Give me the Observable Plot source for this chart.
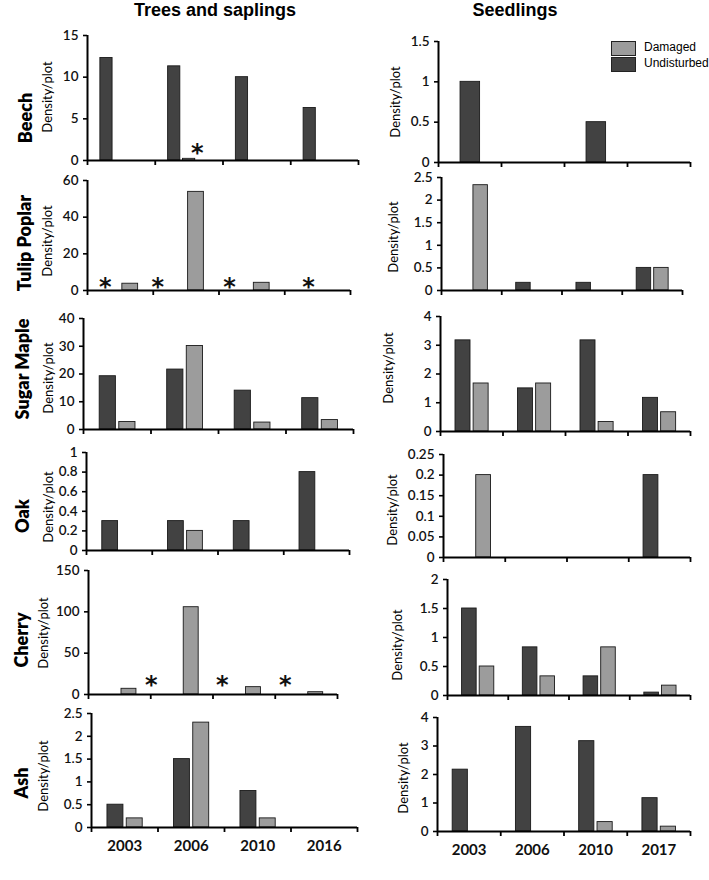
<!DOCTYPE html>
<html>
<head>
<meta charset="utf-8">
<script src="https://cdn.jsdelivr.net/npm/d3@7"></script>
<script src="https://cdn.jsdelivr.net/npm/@observablehq/plot@0.6"></script>
<style>
  html, body { margin: 0; padding: 0; background: #fff; }
  #fig { position: relative; width: 709px; height: 880px; overflow: hidden; font-family: Lato, "Open Sans", sans-serif; }
  .abs { position: absolute; white-space: nowrap; }
  .coltitle { font-family: "Liberation Sans", Arial, sans-serif; font-weight: bold; font-size: 18px; line-height: 20px; transform: translateX(-50%); }
  .rowlab { font-family: Lato, sans-serif; font-weight: 800; font-size: 18px; transform: translate(-50%, -50%) rotate(-90deg); }
  .ylab { font-family: Lato, sans-serif; font-size: 13px; transform: translate(-50%, -50%) rotate(-90deg); }
  .legsw { position: absolute; width: 23px; height: 13px; border: 1px solid #222; }
  .legtx { font-family: "Liberation Sans", Arial, sans-serif; font-size: 12px; }
  svg.panel { position: absolute; overflow: visible; }
</style>
</head>
<body>
<div id="fig"></div>
<script>
// ---------------- DATA ----------------
const species = ["Beech", "Tulip Poplar", "Sugar Maple", "Oak", "Cherry", "Ash"];
const treeYears = ["2003", "2006", "2010", "2016"];
const seedYears = ["2003", "2006", "2010", "2017"];
const seriesNames = ["Undisturbed", "Damaged"];

// Trees and saplings (density/plot), order = treeYears
const treeBeechUndisturbed = [12.3, 11.3, 10.0, 6.3];
const treeBeechDamaged     = [0, 0.2, 0, 0];
const treeTulipUndisturbed = [0, 0, 0, 0];
const treeTulipDamaged     = [3.7, 53.8, 4.2, 0];
const treeMapleUndisturbed = [19.2, 21.6, 14.0, 11.3];
const treeMapleDamaged     = [2.7, 30.1, 2.5, 3.4];
const treeOakUndisturbed   = [0.3, 0.3, 0.3, 0.8];
const treeOakDamaged       = [0, 0.2, 0, 0];
const treeCherryUndisturbed = [0, 0, 0, 0];
const treeCherryDamaged     = [6.9, 105.6, 8.9, 2.8];
const treeAshUndisturbed   = [0.5, 1.5, 0.8, 0];
const treeAshDamaged       = [0.2, 2.3, 0.2, 0];

// Seedlings (density/plot), order = seedYears
const seedBeechUndisturbed = [1.0, 0, 0.5, 0];
const seedBeechDamaged     = [0, 0, 0, 0];
const seedTulipUndisturbed = [0, 0.17, 0.17, 0.5];
const seedTulipDamaged     = [2.33, 0, 0, 0.5];
const seedMapleUndisturbed = [3.17, 1.5, 3.17, 1.17];
const seedMapleDamaged     = [1.67, 1.67, 0.33, 0.67];
const seedOakUndisturbed   = [0, 0, 0, 0.2];
const seedOakDamaged       = [0.2, 0, 0, 0];
const seedCherryUndisturbed = [1.5, 0.83, 0.33, 0.05];
const seedCherryDamaged     = [0.5, 0.33, 0.83, 0.17];
const seedAshUndisturbed   = [2.17, 3.67, 3.17, 1.17];
const seedAshDamaged       = [0, 0, 0.33, 0.17];

// Y tick labels
const ticksTreeBeech = [0, 5, 10, 15];
const ticksTreeTulip = [0, 20, 40, 60];
const ticksTreeMaple = [0, 10, 20, 30, 40];
const ticksTreeOak   = [0, 0.2, 0.4, 0.6, 0.8, 1];
const ticksTreeCherry = [0, 50, 100, 150];
const ticksTreeAsh   = [0, 0.5, 1, 1.5, 2, 2.5];
const ticksSeedBeech = [0, 0.5, 1, 1.5];
const ticksSeedTulip = [0, 0.5, 1, 1.5, 2, 2.5];
const ticksSeedMaple = [0, 1, 2, 3, 4];
const ticksSeedOak   = [0, 0.05, 0.1, 0.15, 0.2, 0.25];
const ticksSeedCherry = [0, 0.5, 1, 1.5, 2];
const ticksSeedAsh   = [0, 1, 2, 3, 4];

// Significance markers (asterisks): year and height in data units
const starsTreeBeech  = [{year: "2006", value: 1.7}];
const starsTreeTulip  = [{year: "2003", value: 5.5}, {year: "2006", value: 5.5}, {year: "2010", value: 5.5}, {year: "2016", value: 5.5}];
const starsTreeCherry = [{year: "2006", value: 20}, {year: "2010", value: 20}, {year: "2016", value: 20}];

// ---------------- LAYOUT ----------------
const colDark = "#424242", colLight = "#9c9c9c";
const std = {u: [0.24, 0.48], d: [0.53, 0.77]};
// horizontal placement of asterisks within each year group (fraction of group)
const starPosTreeBeech = [0.62];
const starPosTreeTulip = [0.27, 0.07, 0.16, 0.36];
const starPosTreeCherry = [0.01, 0.15, 0.16];

const fig = document.getElementById("fig");

function panel(cfg) {
  const {left, right, top, base, ticks, years, u, d, bars = std, stars = [], starPos = [], showYears = false} = cfg;
  const mL = 44, mR = 6, mT = 10, mB = showYears ? 34 : 8;
  const w = right - left, h = base - top;
  const rows = [];
  years.forEach((yr, i) => {
    rows.push({i, year: yr, series: "Undisturbed", value: u[i]});
    rows.push({i, year: yr, series: "Damaged", value: d[i]});
  });
  const drawn = rows.filter(r => r.value > 0);
  const starRows = stars.map((s, k) => ({...s, i: years.indexOf(s.year), pos: starPos[k]}));
  const fmt = v => String(+v.toFixed(2));
  const marks = [
    Plot.rectY(drawn, {
      x1: r => r.i + (r.series === "Undisturbed" ? bars.u[0] : bars.d[0]),
      x2: r => r.i + (r.series === "Undisturbed" ? bars.u[1] : bars.d[1]),
      y1: 0, y2: "value",
      fill: r => r.series === "Undisturbed" ? colDark : colLight,
      stroke: "#1a1a1a", strokeWidth: 0.9
    }),
    Plot.axisY({ticks, tickSize: 4, tickPadding: 5, tickFormat: fmt, label: null, stroke: "#000", strokeWidth: 1.6, fill: "#111", fontSize: 13.5, fontWeight: 600}),
    Plot.axisX({ticks: [0, 1, 2, 3, 4], tickSize: 5, tickFormat: () => "", label: null, stroke: "#000", strokeWidth: 1.8}),
    Plot.ruleX([0], {stroke: "#000", strokeWidth: 2}),
    Plot.ruleY([0], {stroke: "#000", strokeWidth: 2.2}),
    Plot.text(starRows, {x: r => r.i + r.pos, y: "value", text: () => "*", fontSize: 24, fontWeight: 800, fill: "#111", dy: 7, fontFamily: "DejaVu Sans"})
  ];
  if (showYears) {
    marks.push(Plot.axisX({ticks: [0.5, 1.5, 2.5, 3.5], tickSize: 0, tickPadding: 13, tickFormat: t => years[Math.floor(t)], label: null, fontSize: 15, fontWeight: 700, fill: "#111"}));
  }
  const svg = Plot.plot({
    width: w + mL + mR, height: h + mT + mB,
    marginLeft: mL, marginRight: mR, marginTop: mT, marginBottom: mB,
    x: {type: "linear", domain: [0, 4], axis: null},
    y: {domain: [ticks[0], ticks[ticks.length - 1]], axis: null},
    style: {fontFamily: "Lato, 'Open Sans', sans-serif", fontSize: "13.5px", fontWeight: 600, color: "#000", background: "transparent", overflow: "visible"},
    marks
  });
  svg.classList.add("panel");
  svg.style.left = (left - mL) + "px";
  svg.style.top = (top - mT) + "px";
  fig.appendChild(svg);
}

// Trees and saplings column
panel({left: 87, right: 358, top: 35, base: 160, ticks: ticksTreeBeech, years: treeYears, u: treeBeechUndisturbed, d: treeBeechDamaged, bars: {u: [0.19, 0.37], d: [0.41, 0.59]}, stars: starsTreeBeech, starPos: starPosTreeBeech});
panel({left: 87, right: 350, top: 180, base: 290, ticks: ticksTreeTulip, years: treeYears, u: treeTulipUndisturbed, d: treeTulipDamaged, stars: starsTreeTulip, starPos: starPosTreeTulip});
panel({left: 83, right: 353, top: 318, base: 429, ticks: ticksTreeMaple, years: treeYears, u: treeMapleUndisturbed, d: treeMapleDamaged});
panel({left: 86, right: 349, top: 452, base: 550, ticks: ticksTreeOak, years: treeYears, u: treeOakUndisturbed, d: treeOakDamaged});
panel({left: 88, right: 337, top: 570, base: 694, ticks: ticksTreeCherry, years: treeYears, u: treeCherryUndisturbed, d: treeCherryDamaged, stars: starsTreeCherry, starPos: starPosTreeCherry});
panel({left: 91, right: 357, top: 713, base: 827, ticks: ticksTreeAsh, years: treeYears, u: treeAshUndisturbed, d: treeAshDamaged, showYears: true});

// Seedlings column
panel({left: 438, right: 690, top: 41, base: 162, ticks: ticksSeedBeech, years: seedYears, u: seedBeechUndisturbed, d: seedBeechDamaged, bars: {u: [0.35, 0.66], d: [0.66, 0.9]}});
panel({left: 441, right: 682, top: 177, base: 290, ticks: ticksSeedTulip, years: seedYears, u: seedTulipUndisturbed, d: seedTulipDamaged});
panel({left: 440, right: 690, top: 316, base: 431, ticks: ticksSeedMaple, years: seedYears, u: seedMapleUndisturbed, d: seedMapleDamaged});
panel({left: 443, right: 690, top: 454, base: 557, ticks: ticksSeedOak, years: seedYears, u: seedOakUndisturbed, d: seedOakDamaged});
panel({left: 447, right: 690, top: 579, base: 695, ticks: ticksSeedCherry, years: seedYears, u: seedCherryUndisturbed, d: seedCherryDamaged});
panel({left: 437, right: 690, top: 717, base: 831, ticks: ticksSeedAsh, years: seedYears, u: seedAshUndisturbed, d: seedAshDamaged, showYears: true});

// Text: column titles, row labels, y labels
function addText(cls, text, x, y) {
  const el = document.createElement("div");
  el.className = "abs " + cls;
  el.textContent = text;
  el.style.left = x + "px";
  el.style.top = y + "px";
  fig.appendChild(el);
  return el;
}
addText("coltitle", "Trees and saplings", 215, 0);
addText("coltitle", "Seedlings", 515, 0);

const rowLabelCenters = [[25, 118], [24, 243], [22, 369], [22, 516], [21, 640], [21, 783]];
species.forEach((s, k) => addText("rowlab", s, rowLabelCenters[k][0], rowLabelCenters[k][1]));
const yLabLeft = [[47, 97], [47, 241], [48, 378], [48, 507], [43, 633], [43, 776]];
const yLabRight = [[395, 102], [393, 237], [388, 368], [392, 510], [397, 645], [403, 778]];
yLabLeft.forEach(([x, y]) => addText("ylab", "Density/plot", x, y));
yLabRight.forEach(([x, y]) => addText("ylab", "Density/plot", x, y));

// Legend
[["Damaged", colLight, 41], ["Undisturbed", colDark, 57]].forEach(([name, col, y]) => {
  const sw = document.createElement("div");
  sw.className = "legsw";
  sw.style.left = "611px"; sw.style.top = y + "px"; sw.style.background = col;
  fig.appendChild(sw);
  addText("legtx", name, 644, y - 1);
});
</script>
</body>
</html>
